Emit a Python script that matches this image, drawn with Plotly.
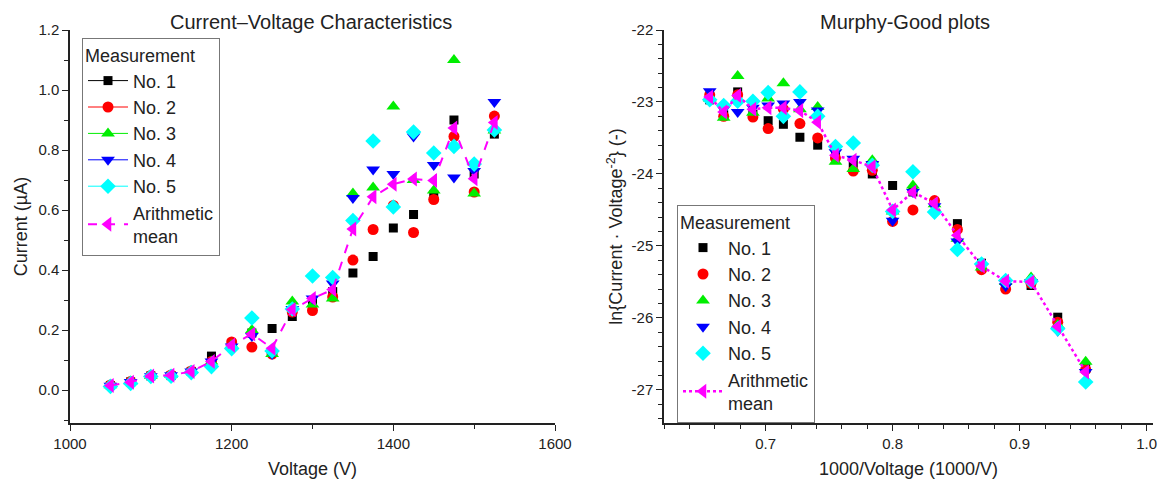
import plotly.graph_objects as go

# ---------------- data ----------------
voltage = [1050, 1075, 1100, 1125, 1150, 1175, 1200, 1225, 1250, 1275,
           1300, 1325, 1350, 1375, 1400, 1425, 1450, 1475, 1500, 1525]

cur_no1 = [0.015, 0.027, 0.047, 0.048, 0.062, 0.113, 0.152, 0.190, 0.205, 0.245,
           0.290, 0.328, 0.390, 0.445, 0.540, 0.585, 0.650, 0.900, 0.720, 0.853]
cur_no2 = [0.017, 0.028, 0.048, 0.050, 0.063, 0.095, 0.160, 0.143, 0.120, 0.260,
           0.265, 0.310, 0.433, 0.535, 0.615, 0.525, 0.635, 0.845, 0.660, 0.913]
cur_no3 = [0.016, 0.028, 0.047, 0.050, 0.063, 0.095, 0.150, 0.200, 0.120, 0.295,
           0.285, 0.305, 0.655, 0.675, 0.945, 0.700, 0.665, 1.100, 0.655, 0.865]
cur_no4 = [0.014, 0.027, 0.046, 0.049, 0.062, 0.095, 0.145, 0.180, 0.120, 0.270,
           0.305, 0.355, 0.640, 0.735, 0.720, 0.845, 0.750, 0.708, 0.730, 0.960]
cur_no5 = [0.012, 0.022, 0.045, 0.046, 0.058, 0.078, 0.138, 0.240, 0.130, 0.270,
           0.380, 0.375, 0.565, 0.830, 0.610, 0.860, 0.790, 0.812, 0.753, 0.867]
cur_mean = [0.015, 0.026, 0.047, 0.049, 0.062, 0.095, 0.149, 0.187, 0.139, 0.268,
            0.305, 0.335, 0.537, 0.644, 0.686, 0.703, 0.698, 0.873, 0.704, 0.892]

inv_voltage = [0.952, 0.930, 0.909, 0.889, 0.870, 0.851, 0.833, 0.816, 0.800, 0.784,
               0.769, 0.755, 0.741, 0.727, 0.714, 0.702, 0.690, 0.678, 0.667, 0.656]

mg_no1 = [-26.70, -25.99, -25.55, -25.50, -25.24, -24.69, -24.40, -24.25, -24.16, -24.00,
          -23.85, -23.75, -23.60, -23.49, -23.31, -23.26, -23.17, -22.86, -23.18, -22.97]
mg_no2 = [-26.72, -26.06, -25.52, -25.60, -25.33, -24.77, -24.37, -24.50, -24.66, -23.95,
          -23.96, -23.78, -23.50, -23.30, -23.10, -23.37, -23.21, -22.90, -23.20, -22.90]
mg_no3 = [-26.61, -26.10, -25.44, -25.50, -25.30, -24.90, -24.42, -24.16, -24.52, -23.81,
          -23.93, -23.83, -23.07, -23.10, -22.74, -22.95, -23.15, -22.64, -23.22, -22.95]
mg_no4 = [-26.75, -26.18, -25.50, -25.56, -25.28, -24.94, -24.45, -24.25, -24.65, -23.86,
          -23.79, -23.70, -23.12, -23.00, -23.02, -23.05, -23.08, -23.14, -23.10, -22.85]
mg_no5 = [-26.89, -26.15, -25.49, -25.48, -25.25, -25.05, -24.53, -23.97, -24.52, -23.88,
          -23.57, -23.62, -23.20, -22.86, -23.20, -22.87, -22.99, -22.99, -23.05, -22.97]
mg_mean = [-26.75, -26.12, -25.50, -25.49, -25.28, -24.85, -24.41, -24.25, -24.50, -23.90,
           -23.81, -23.74, -23.28, -23.12, -23.08, -23.08, -23.10, -22.91, -23.14, -22.93]

series_names = ["No. 1", "No. 2", "No. 3", "No. 4", "No. 5"]
series_colors = ["#000000", "#FF0000", "#00EE00", "#0000FF", "#00FFFF"]
series_symbols = ["square", "circle", "triangle-up", "triangle-down", "diamond"]
series_sizes = [9, 11, 12, 12, 12]
mean_name = "Arithmetic<br>mean"
mean_color = "#FF00FF"

left_xticks = [1000, 1200, 1400, 1600]
left_yticks = [0.0, 0.2, 0.4, 0.6, 0.8, 1.0, 1.2]
right_xticks = [0.7, 0.8, 0.9, 1.0]
right_yticks = [-22, -23, -24, -25, -26, -27]

FONT = "Liberation Sans, Arial, sans-serif"
TXT = "#222222"
W, H = 1170, 482
# plot area (pixels) shared by both panels
L, R, T, B = 70, 1153, 30, 423
IW, IH = R - L, B - T


def px2x(p):
    return (p - L) / IW


def px2y(p):
    return (B - p) / IH


fig = go.Figure()

left_curr = [cur_no1, cur_no2, cur_no3, cur_no4, cur_no5]
right_mg = [mg_no1, mg_no2, mg_no3, mg_no4, mg_no5]

# ---------- left plot: Current-Voltage ----------
for name, col, sym, sz, ys in zip(series_names, series_colors, series_symbols, series_sizes, left_curr):
    fig.add_trace(go.Scatter(x=voltage, y=ys, mode="markers", name=name,
                             marker=dict(color=col, symbol=sym, size=sz, line=dict(width=0)),
                             showlegend=False, xaxis="x", yaxis="y"))
    # legend entry (line + marker, as in the original legend)
    fig.add_trace(go.Scatter(x=[None], y=[None], mode="lines+markers", name=name,
                             line=dict(color=col, width=1),
                             marker=dict(color=col, symbol=sym, size=sz, line=dict(width=0)),
                             legend="legend", xaxis="x", yaxis="y"))
fig.add_trace(go.Scatter(x=voltage, y=cur_mean, mode="lines+markers", name=mean_name,
                         line=dict(color=mean_color, width=2, dash="dash"),
                         marker=dict(color=mean_color, symbol="triangle-left", size=13, line=dict(width=0)),
                         legend="legend", xaxis="x", yaxis="y"))

# ---------- right plot: Murphy-Good ----------
for name, col, sym, sz, ys in zip(series_names, series_colors, series_symbols, series_sizes, right_mg):
    fig.add_trace(go.Scatter(x=inv_voltage, y=ys, mode="markers", name=name,
                             marker=dict(color=col, symbol=sym, size=sz, line=dict(width=0)),
                             legend="legend2", xaxis="x2", yaxis="y2"))
fig.add_trace(go.Scatter(x=inv_voltage, y=mg_mean, mode="lines+markers", name=mean_name,
                         line=dict(color=mean_color, width=2.5, dash="dot"),
                         marker=dict(color=mean_color, symbol="triangle-left", size=13, line=dict(width=0)),
                         legend="legend2", xaxis="x2", yaxis="y2"))

axis_common = dict(showline=True, linecolor=TXT, linewidth=1.5, mirror=False,
                   showgrid=False, zeroline=False, ticks="outside", ticklen=6,
                   tickwidth=1.2, tickcolor=TXT, automargin=False,
                   tickfont=dict(family=FONT, size=15, color=TXT))
title_font = dict(family=FONT, size=18, color=TXT)
minor_common = dict(ticks="outside", ticklen=4, tickcolor=TXT, tickwidth=1)

legend_common = dict(xanchor="left", yanchor="top",
                     bgcolor="white", bordercolor="#777", borderwidth=1,
                     font=dict(family=FONT, size=18, color=TXT),
                     title=dict(text="Measurement", font=dict(family=FONT, size=18, color=TXT)),
                     itemwidth=40, tracegroupgap=0)

fig.update_layout(
    width=W, height=H,
    margin=dict(l=L, r=W - R, t=T, b=H - B, autoexpand=False),
    paper_bgcolor="white", plot_bgcolor="white",
    font=dict(family=FONT, color=TXT),
    xaxis=dict(domain=[px2x(70), px2x(555)], range=[1000, 1600], anchor="y",
               tickvals=left_xticks, ticktext=[str(v) for v in left_xticks],
               minor=dict(dtick=100, tick0=1000, **minor_common),
               title=dict(text="Voltage (V)", font=title_font, standoff=12),
               **axis_common),
    yaxis=dict(domain=[0, 1], range=[-0.11, 1.2], anchor="x",
               tickvals=left_yticks, ticktext=[f"{v:.1f}" for v in left_yticks],
               minor=dict(dtick=0.1, tick0=0, **minor_common),
               title=dict(text="Current (µA)", font=title_font, standoff=6),
               **axis_common),
    xaxis2=dict(domain=[px2x(664), 1], range=[0.62, 1.005], anchor="y2",
                tickvals=right_xticks, ticktext=[f"{v:.1f}" for v in right_xticks],
                minor=dict(dtick=0.02, tick0=0.6, **minor_common),
                title=dict(text="1000/Voltage (1000/V)", font=title_font, standoff=12),
                **axis_common),
    yaxis2=dict(domain=[0, 1], range=[-27.46, -22], anchor="x2",
                tickvals=right_yticks, ticktext=[str(v) for v in right_yticks],
                minor=dict(dtick=0.2, tick0=-22, **minor_common),
                title=dict(text="ln{Current · Voltage<sup>-2</sup>} (-)", font=title_font, standoff=4),
                **axis_common),
    legend=dict(x=px2x(82), y=px2y(38), **legend_common),
    legend2=dict(x=px2x(677), y=px2y(205), **legend_common),
    annotations=[
        dict(text="Current–Voltage Characteristics", x=px2x(311), y=px2y(22), xref="paper", yref="paper",
             showarrow=False, xanchor="center", yanchor="middle",
             font=dict(family=FONT, size=20, color=TXT)),
        dict(text="Murphy-Good plots", x=px2x(905), y=px2y(22), xref="paper", yref="paper",
             showarrow=False, xanchor="center", yanchor="middle",
             font=dict(family=FONT, size=20, color=TXT)),
    ],
)

fig.write_html("out.html",
               config={"displayModeBar": False},
               post_script="document.body.style.margin='0';document.body.style.overflow='hidden';")
